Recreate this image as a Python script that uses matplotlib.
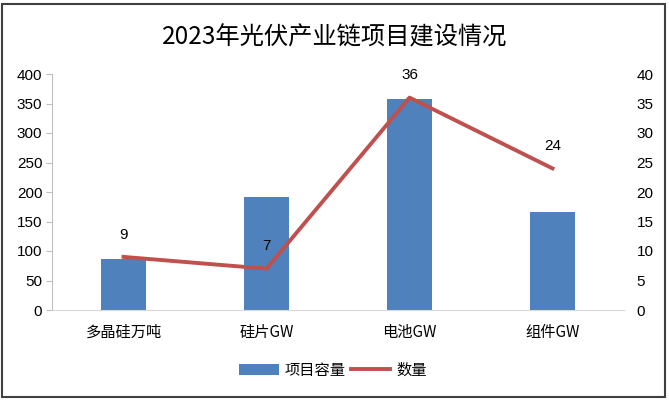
import matplotlib
matplotlib.use("Agg")
import matplotlib.pyplot as plt
from matplotlib.patches import Rectangle

plt.rcParams['font.family'] = ['Liberation Sans', 'Noto Sans CJK SC', 'DejaVu Sans']

categories = ['多晶硅万吨', '硅片GW', '电池GW', '组件GW']
capacity = [86, 191, 358, 166]
counts = [9, 7, 36, 24]
title = '2023年光伏产业链项目建设情况'

W, H = 669, 401
fig = plt.figure(figsize=(W/100, H/100), dpi=100)
ax = fig.add_axes([52/W, 1-310/H, (624-52)/W, (310-74)/H])
ax2 = ax.twinx()

x = list(range(len(categories)))
bars = ax.bar(x, capacity, width=0.32, color='#4F81BD', label='项目容量', zorder=2)
line, = ax2.plot(x, counts, color='#C0504D', lw=2.8, label='数量', zorder=3)
for xi, c in zip(x, counts):
    ax2.annotate(str(c), (xi, c), xytext=(0, 11), textcoords='offset points',
                 ha='center', va='bottom', fontsize=11, color='#000000')

ax.set_xlim(-0.5, 3.5)
ax.set_ylim(0, 400)
ax2.set_ylim(0, 40)
ax.set_yticks(range(0, 401, 50))
ax2.set_yticks(range(0, 41, 5))
ax.set_xticks(x)
ax.set_xticklabels(categories, fontsize=11, family=['Noto Sans CJK SC', 'DejaVu Sans'])
ax.tick_params(axis='x', length=0, pad=10)
ax.tick_params(axis='y', labelsize=11, length=4, color='#BFBFBF', pad=3)
ax2.tick_params(axis='y', labelsize=11, length=0, pad=9)

for a in (ax, ax2):
    for s in ('top', 'right'):
        a.spines[s].set_visible(False)
ax2.spines['left'].set_visible(False)
ax2.spines['bottom'].set_visible(False)
ax.spines['left'].set_color('#BFBFBF')
ax.spines['bottom'].set_color('#D9D9D9')

fig.text(0.5, 1-37/H, title, ha='center', va='center', fontsize=17.5,
         family=['Noto Sans CJK SC', 'DejaVu Sans'])

fig.legend([bars, line], ['项目容量', '数量'], loc='center', bbox_to_anchor=(333/W, 1-370/H),
           ncol=2, frameon=False, prop={'family': ['Noto Sans CJK SC'], 'size': 11},
           handlelength=2.6, columnspacing=0.3, handletextpad=0.4)

fig.patches.append(Rectangle((2/W, 4/H), (W-6)/W, (H-8)/H, transform=fig.transFigure,
                             fill=False, edgecolor='#404040', lw=1.5))

fig.savefig('out.png', dpi=100)
